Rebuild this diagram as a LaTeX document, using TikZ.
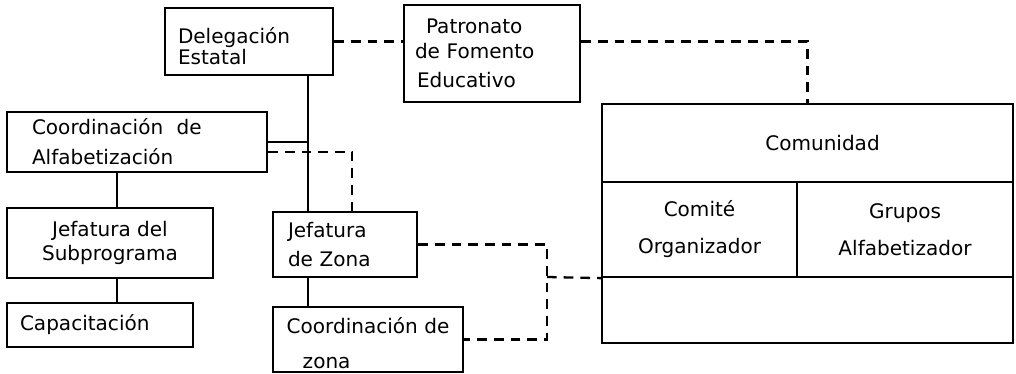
\documentclass[tikz,border=0pt]{standalone}
\usepackage{fontspec}
\setmainfont{DejaVu Sans}
\tikzset{
  caja/.style={draw=black, line width=1.3pt, inner sep=0pt, font=\fontsize{11.4}{14}\selectfont},
  liga/.style={black, line width=1.3pt},
  ligapunt/.style={black, line width=1.3pt, dash pattern=on 5.5pt off 4pt}
}

\begin{document}
\begin{tikzpicture}
\useasboundingbox (0,0) rectangle (20.32,-7.48);
% lado izquierdo
\node[caja, minimum width=3.36cm, minimum height=1.34cm, text width=2.84cm, align=left] (deleg) at (4.98,-0.83) {\rule{0pt}{14pt}Delegación\\[-2pt]Estatal};
\node[caja, minimum width=3.52cm, minimum height=1.94cm, text width=3.08cm, align=left] (patron) at (9.84,-1.07) {\hspace*{0.55em}Patronato\\de Fomento\\[3pt]\hspace*{0.1em}Educativo};
\node[caja, minimum width=5.2cm, minimum height=1.2cm, text width=4.2cm, align=left] (coordalf) at (2.74,-2.84) {Coordinación \ de\\[3pt]Alfabetización};
\node[caja, minimum width=4.12cm, minimum height=1.4cm, align=center] (jefsub) at (2.2,-4.86) {Jefatura del\\Subprograma};
\node[caja, minimum width=3.72cm, minimum height=0.88cm, text width=3.2cm, align=left] (capac) at (2.0,-6.5) {Capacitación};
\node[caja, minimum width=2.88cm, minimum height=1.3cm, text width=2.28cm, align=left] (jefzona) at (6.9,-4.89) {Jefatura\\[2pt]de Zona};
\node[caja, minimum width=3.8cm, minimum height=1.3cm, align=left] (coordzona) at (7.36,-6.79) {\rule{0pt}{13pt}Coordinación de\\[6pt]\hspace*{0.8em}zona};
% comunidad
\node[caja, minimum width=8.22cm, minimum height=1.56cm] (comun) at (16.15,-2.86) {\hspace*{0.6cm}Comunidad};
\node[caja, minimum width=3.9cm, minimum height=1.9cm, align=center] (comite) at (13.99,-4.59) {Comité\\[7pt]Organizador};
\node[caja, minimum width=4.32cm, minimum height=1.9cm, align=center] (grupos) at (18.1,-4.59) {Grupos\\[7pt]Alfabetizador};
\node[caja, minimum width=8.22cm, minimum height=1.32cm] (vacio) at (16.15,-6.2) {};
\coordinate (tronco) at (6.16,-2.84);
\coordinate (codo) at (7.04,-3.04);
\coordinate (col) at (2.34,-4.0);
\coordinate (enlace) at (10.94,-5.54);
% lineas de mando
\draw[liga] (deleg.south -| tronco) -- (jefzona.north -| tronco);
\draw[liga] (coordalf.east |- tronco) -- (tronco);
\draw[liga] (coordalf.south -| col) -- (jefsub.north -| col);
\draw[liga] (jefsub.south -| col) -- (capac.north -| col);
\draw[liga] (jefzona.south -| tronco) -- (coordzona.north -| tronco);
% coordinacion
\draw[ligapunt] (deleg.east) -- (deleg.east -| patron.west);
\draw[ligapunt] (patron.east |- deleg.east) -| (comun.north);
\draw[ligapunt] (coordalf.east |- codo) -| (jefzona.north -| codo);
\draw[ligapunt] (jefzona.east) -| (enlace |- coordzona.east) -- (coordzona.east);
\draw[ligapunt] (enlace) -- (comite.south west);
\end{tikzpicture}
\end{document}
